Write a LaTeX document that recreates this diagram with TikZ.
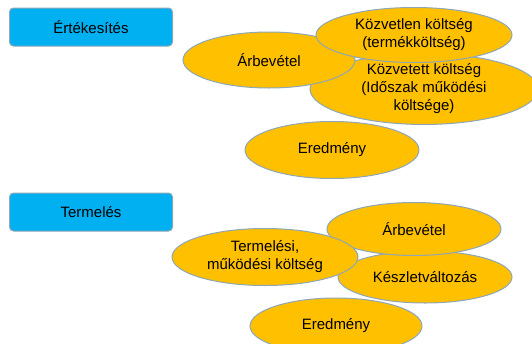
\documentclass[tikz,border=0pt]{standalone}
\usepackage{fontspec}
\setmainfont{Liberation Sans}
\usepackage{xcolor}
\usepackage{tikz}
\usetikzlibrary{
  positioning,
  shapes.geometric
}
\definecolor{headblue}{HTML}{00B0F0}
\definecolor{itemgold}{HTML}{FFC000}
\definecolor{edgegray}{HTML}{8EA6B6}

\begin{document}
\begin{tikzpicture}[
  x=1pt, y=-1pt,
  head/.style={draw=edgegray, line width=1pt, fill=headblue, rounded corners=4pt,
    minimum width=163pt, minimum height=38pt, inner sep=0pt},
  item/.style={ellipse, draw=edgegray, line width=1pt, fill=itemgold, inner sep=0pt,
    align=center},
  every node/.style={font=\fontsize{15}{18}\selectfont, text=black},
]
  \useasboundingbox (0,0) rectangle (532,343);
  \clip (0,0) rectangle (532,343);

  % Értékesítés
  \node[head] (sales) at (91,27) {Értékesítés};
  \node[item, minimum width=228pt, minimum height=55pt] (indirect) at (424,89)
    {Közvetett költség\\(Időszak működési\\költsége)};
  \node[item, minimum width=172pt, minimum height=56pt] (revenue) at (269,60) {Árbevétel};
  \node[item, minimum width=196pt, minimum height=55pt] (direct) at (414,35)
    {Közvetlen költség\\(termékköltség)};
  \node[item, minimum width=174pt, minimum height=57pt] (result) at (332,150) {Eredmény};

  % Termelés
  \node[head] (prod) at (91,212) {Termelés};
  \node[item, minimum width=174pt, minimum height=52pt] (stock) at (425,277) {Készletváltozás};
  \node[item, minimum width=174pt, minimum height=53pt] (prodrev) at (414,229) {Árbevétel};
  \node[item, minimum width=186pt, minimum height=57pt] (opcost) at (265,257)
    {Termelési,\\működési költség};
  \node[item, minimum width=172pt, minimum height=56pt] (prodres) at (336,326) {Eredmény};
\end{tikzpicture}
\end{document}
